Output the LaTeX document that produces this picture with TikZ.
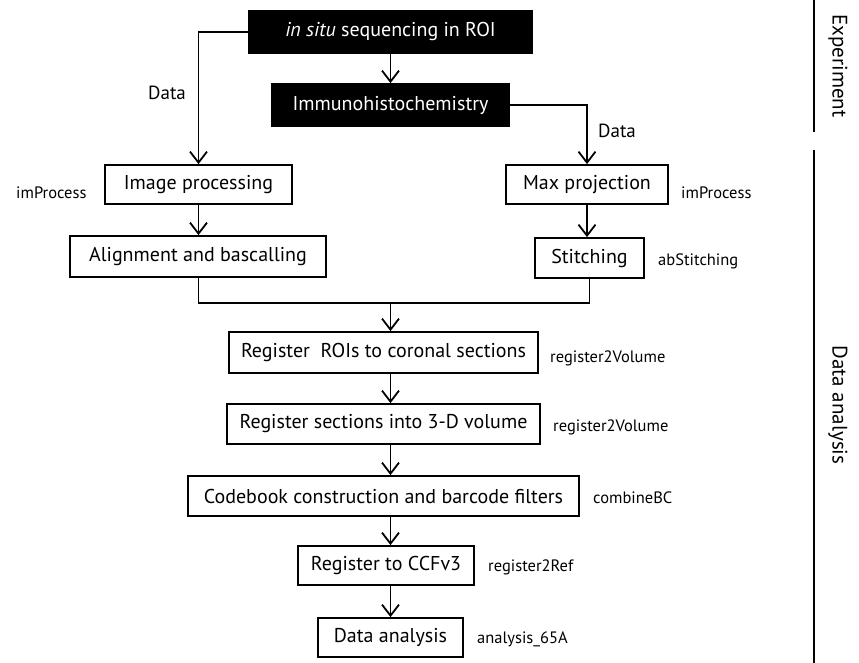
\documentclass[tikz,border=0pt]{standalone}
\usepackage{fontspec}
\setmainfont{PT Sans}
\usetikzlibrary{arrows.meta}
\begin{document}
\begin{tikzpicture}[x=1pt,y=-1pt,
  box/.style={draw=black,line width=1.8pt,fill=white,inner sep=0pt,font=\fontsize{20}{24}\selectfont},
  blackbox/.style={draw=black,line width=1.8pt,fill=black,text=white,inner sep=0pt,font=\fontsize{20}{24}\selectfont},
  lbl/.style={inner sep=0pt,font=\fontsize{16.5}{19}\selectfont},
  dlbl/.style={inner sep=0pt,font=\fontsize{19}{22}\selectfont},
  side/.style={inner sep=0pt,font=\fontsize{21}{24}\selectfont,rotate=-90},
  conn/.style={line width=1.8pt},
  arr/.style={line width=1.8pt,-{Straight Barb[length=11pt,width=17pt,line width=1.8pt]}}
]
\useasboundingbox (0,0) rectangle (859,663);
% boxes
\node[blackbox,minimum width=283pt,minimum height=42pt] (insitu) at (390.5,32) {\textit{in situ} sequencing in ROI};
\node[blackbox,minimum width=237pt,minimum height=42pt] (immuno) at (390.5,105) {Immunohistochemistry};
\node[box,minimum width=187pt,minimum height=39pt] (imgproc) at (198.5,184.5) {Image processing};
\node[box,minimum width=256pt,minimum height=41pt] (align) at (198,256.5) {Alignment and bascalling};
\node[box,minimum width=162pt,minimum height=39pt] (maxproj) at (587,184.5) {Max projection};
\node[box,minimum width=109pt,minimum height=40pt] (stitch) at (589.5,258) {Stitching};
\node[box,minimum width=309pt,minimum height=41pt] (regroi) at (383.5,352.5) {Register\ \ ROIs to coronal sections};
\node[box,minimum width=313pt,minimum height=40pt] (regsec) at (383.5,424) {Register sections into 3-D volume};
\node[box,minimum width=391pt,minimum height=40pt] (codebook) at (383.5,496) {Codebook construction and barcode filters};
\node[box,minimum width=176pt,minimum height=39pt] (ccf) at (386,565.5) {Register to CCFv3};
\node[box,minimum width=145pt,minimum height=39pt] (dana) at (390.5,637.5) {Data analysis};
% side labels
\node[lbl,anchor=west] (l1) at (16,193) {imProcess};
\node[lbl,anchor=west] (l2) at (681,193) {imProcess};
\node[lbl,anchor=west] (l3) at (658,261) {abStitching};
\node[lbl,anchor=west] (l4) at (550,358) {register2Volume};
\node[lbl,anchor=west] (l5) at (553,427) {register2Volume};
\node[lbl,anchor=west] (l6) at (593,498) {combineBC};
\node[lbl,anchor=west] (l7) at (488,567) {register2Ref};
\node[lbl,anchor=west] (l8) at (477,639) {analysis\_65A};
\node[dlbl,anchor=west] (d1) at (148,93) {Data};
\node[dlbl,anchor=west] (d2) at (598,131) {Data};
% spine coordinates
\coordinate (sp) at (390.5,0);
\coordinate (lx) at (198.5,0);
\coordinate (rx) at (587,0);
\coordinate (my) at (0,303);
% connectors
\draw[arr] (insitu.south -| sp) -- (immuno.north -| sp);
\draw[arr] (insitu.west) -- (insitu.west -| lx) -- (imgproc.north -| lx);
\draw[arr] (immuno.east) -- (immuno.east -| rx) -- (maxproj.north -| rx);
\draw[arr] (imgproc.south -| lx) -- (align.north -| lx);
\draw[arr] (maxproj.south -| rx) -- (stitch.north -| rx);
\draw[conn] (align.south -| lx) -- (my -| lx) -- (my -| stitch.south) -- (stitch.south);
\coordinate (mm) at (my -| sp);
\draw[arr] (mm) -- (regroi.north -| sp);
\draw[arr] (regroi.south -| sp) -- (regsec.north -| sp);
\draw[arr] (regsec.south -| sp) -- (codebook.north -| sp);
\draw[arr] (codebook.south -| sp) -- (ccf.north -| sp);
\draw[arr] (ccf.south -| sp) -- (dana.north -| sp);
% section bars
\draw[line width=2.6pt] (814,0) -- (814,132);
\draw[line width=2.6pt] (814,150) -- (814,663);
\node[side] (exp) at (838,66) {Experiment};
\node[side] (dan) at (838,405) {Data analysis};
\end{tikzpicture}
\end{document}
